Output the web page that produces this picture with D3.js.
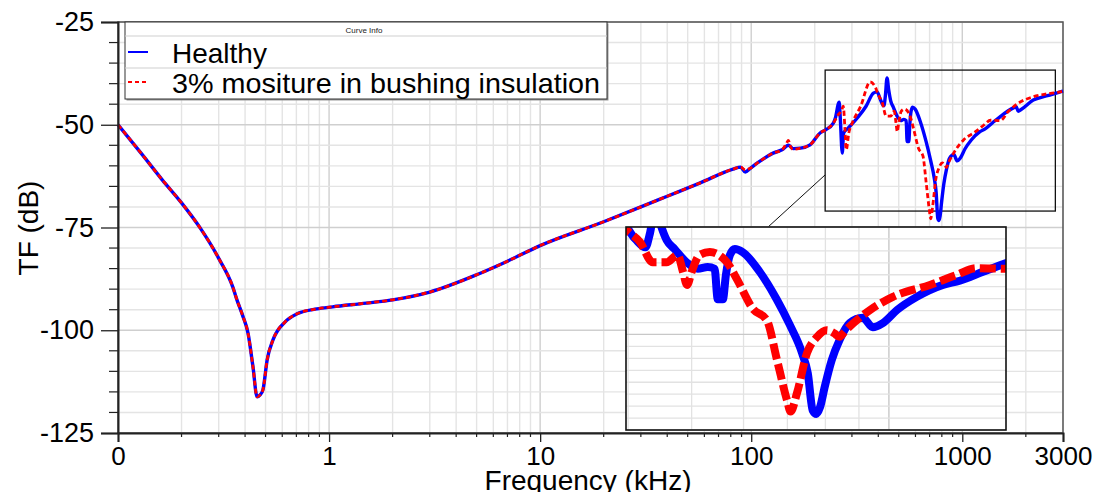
<!DOCTYPE html>
<html><head><meta charset="utf-8">
<script src="https://cdn.jsdelivr.net/npm/d3@7"></script>
<style>body{margin:0;background:#fff;} svg{display:block;font-family:"Liberation Sans",Arial,sans-serif;}</style>
</head><body><svg id="c" width="1094" height="492"></svg>
<script>
// ---------- data ----------
const xTickValues = [0.1, 1, 10, 100, 1000, 3000];
const xTickLabels = ["0", "1", "10", "100", "1000", "3000"];
const yTickValues = [-125, -100, -75, -50, -25];
const seriesNames = ["Healthy", "3% mositure in bushing insulation"];
const legendTitle = "Curve Info";
const xTitle = "Frequency (kHz)";
const yTitle = "TF (dB)";

const freqHealthy = [0.1,0.13,0.162,0.2,0.245,0.3,0.35,0.366,0.39,0.413,0.436,0.456,0.47,0.486,0.509,0.543,0.618,0.705,0.875,1.04,1.5,2,3,5,7,10,20,30,40,57,82,89,93.7,99,107,127,140,150,158,171,190,212,224,245,250,261,264,270,274,288,321,350,379,395,410,425,432,440,448,458,471,491,511,529,542,548,558,564,572,582,598,635,674,706,737,752,765,775,785,798,818,841,871,912,945,979,1029,1103,1209,1283,1392,1514,1745,1800,1841,1900,2168,2500,2911,3000];
const tfHealthy = [-50,-57.2,-63.4,-69,-75.1,-82.5,-89.5,-92.6,-96.5,-100.7,-108.9,-116.2,-115.8,-114.5,-107.2,-102.3,-98,-96,-94.8,-94.3,-93.4,-92.6,-90.7,-86.5,-83.2,-79.4,-73.6,-70,-67.4,-64.2,-60.8,-60.3,-61.5,-60.6,-59.3,-56.9,-56.1,-55,-55.8,-55.7,-54.9,-52,-51.3,-49.6,-48.5,-44.5,-48,-56.9,-52,-50.8,-48.1,-45.5,-42.3,-42,-44,-45.4,-43,-38.6,-41.5,-44.2,-45.7,-47.9,-49,-48.7,-49,-54.1,-54.1,-50,-46.7,-45.7,-46.2,-49.5,-54.1,-58.4,-63.1,-66.5,-72.7,-73.3,-72.2,-68.8,-64.3,-60.9,-58.1,-57.2,-58.8,-58.1,-55.9,-53.7,-51.7,-51,-49.5,-48,-45.9,-45.6,-46.7,-46.3,-44,-43,-42,-41.8];

const freqMoisture = [0.1,0.13,0.162,0.2,0.245,0.3,0.35,0.366,0.39,0.413,0.436,0.456,0.47,0.486,0.509,0.543,0.618,0.705,0.875,1.04,1.5,2,3,5,7,10,20,30,40,57,82,89,93.7,99,107,127,140,147,150,154,158,171,190,212,224,245,258,268,273,278,282,290,301,330,366,387,398,417,436,458,476,485,492,500,514,533,566,586,620,651,675,699,708,724,750,777,804,825,841,856,936,1014,1155,1270,1361,1514,1650,1824,2168,2500,2911,3000];
const tfMoisture = [-50,-57.2,-63.4,-69,-75.1,-82.5,-89.5,-92.6,-96.5,-100.7,-108.9,-116.2,-115.8,-114.5,-107.2,-102.3,-98,-96,-94.8,-94.3,-93.4,-92.6,-90.7,-86.5,-83.2,-79.4,-73.6,-70,-67.4,-64.2,-60.8,-60.3,-61,-60.6,-59.3,-56.9,-56.1,-54.5,-53.8,-55.5,-56,-55.7,-54.9,-52,-51.3,-49.6,-47.6,-46.5,-45.5,-51,-56.1,-52,-49.6,-45.5,-39.6,-40.8,-42.5,-44.5,-47.9,-47.9,-46.7,-49.5,-51.7,-49.5,-46.7,-46.2,-47.9,-50.7,-55.7,-57.6,-64.3,-71,-72.9,-69.8,-63.1,-60.4,-59.3,-59.8,-60.4,-59.5,-55.9,-53.7,-51.7,-50,-48.9,-49,-46.8,-44.9,-43.2,-42.5,-42,-41.8];

// highlighted box on main plot and the range shown by the magnified inset
const boxFreq = [224, 2760];
const boxTF = [-71, -36.7];
const zoomFreq = [397, 1509];
const zoomTF = [-76, -42];
const connectorFrom = [224, -62.2]; // on main axes
const connectorToFreq = 654;        // on inset top

// ---------- layout ----------
const svg = d3.select("#c");
const M = {l:118, r:1063, t:22, b:433};
const x = d3.scaleLog().domain([0.1, 3000]).range([M.l, M.r]);
const y = d3.scaleLinear().domain([-125, -25]).range([M.b, M.t]);

const I = {l:626, r:1006, t:227, b:430};
const xi = d3.scaleLog().domain(zoomFreq).range([I.l, I.r]);
const yi = d3.scaleLinear().domain(zoomTF).range([I.b, I.t]);

const healthy = freqHealthy.map((f,i)=>[f, tfHealthy[i]]);
const moisture = freqMoisture.map((f,i)=>[f, tfMoisture[i]]);

const xMinor = [];
for (let dec = 0.1; dec < 3000; dec *= 10) for (let k = 1; k < 10; k++) { const v = +(dec*k).toPrecision(3); if (v <= 3000) xMinor.push(v); }
const yMinor = d3.range(-125, -24, 5);

// grid
const g = svg.append("g");
g.selectAll(".xg").data(xMinor).join("line")
  .attr("x1", d=>x(d)).attr("x2", d=>x(d)).attr("y1", M.t).attr("y2", M.b)
  .attr("stroke", d=> [0.1,1,10,100,1000].includes(d) ? "#cfcfcf" : "#e4e4e4")
  .attr("stroke-width", 1.4);
g.selectAll(".yg").data(yMinor).join("line")
  .attr("x1", M.l).attr("x2", M.r).attr("y1", d=>y(d)).attr("y2", d=>y(d))
  .attr("stroke", d=> d % 25 === 0 ? "#cfcfcf" : "#e4e4e4")
  .attr("stroke-width", 1.4);

// frame
svg.append("rect").attr("x", M.l).attr("y", M.t).attr("width", M.r-M.l).attr("height", M.b-M.t)
  .attr("fill", "none").attr("stroke", "#555").attr("stroke-width", 1.5);

// highlight box
svg.append("rect").attr("x", x(boxFreq[0])).attr("y", y(boxTF[1]))
  .attr("width", x(boxFreq[1]) - x(boxFreq[0])).attr("height", y(boxTF[0]) - y(boxTF[1]))
  .attr("fill", "none").attr("stroke", "#111").attr("stroke-width", 1.3);

// main curves
const line = d3.line().x(d=>x(d[0])).y(d=>y(d[1])).curve(d3.curveMonotoneX);
svg.append("path").datum(healthy).attr("d", line).attr("fill","none").attr("stroke","#0000ff").attr("stroke-width",3.4).attr("stroke-linejoin","round");
svg.append("path").datum(moisture).attr("d", line).attr("fill","none").attr("stroke","#ff0000").attr("stroke-width",2.8).attr("stroke-dasharray","5,3");

// connector
svg.append("line").attr("x1", x(connectorFrom[0])).attr("y1", y(connectorFrom[1]))
  .attr("x2", xi(connectorToFreq)).attr("y2", I.t).attr("stroke","#111").attr("stroke-width",1);

// inset
const ig = svg.append("g");
ig.append("rect").attr("x", I.l).attr("y", I.t).attr("width", I.r-I.l).attr("height", I.b-I.t).attr("fill","#fff");
const xiGrid = [400,500,600,700,800,900,1000];
ig.selectAll(".ixg").data(xiGrid).join("line")
  .attr("x1", d=>xi(d)).attr("x2", d=>xi(d)).attr("y1", I.t).attr("y2", I.b)
  .attr("stroke", d=> d===1000 ? "#c4c4c4" : "#e2e2e2").attr("stroke-width", 1.3);
const yiGrid = d3.range(-76, -41, 2);
ig.selectAll(".iyg").data(yiGrid).join("line")
  .attr("x1", I.l).attr("x2", I.r).attr("y1", d=>yi(d)).attr("y2", d=>yi(d))
  .attr("stroke", d=> d===-60 ? "#c8c8c8" : "#e2e2e2").attr("stroke-width", 1.3);
svg.append("clipPath").attr("id","ic").append("rect").attr("x", I.l).attr("y", I.t).attr("width", I.r-I.l).attr("height", I.b-I.t);
const iline = d3.line().x(d=>xi(d[0])).y(d=>yi(d[1])).curve(d3.curveMonotoneX);
const ic = ig.append("g").attr("clip-path","url(#ic)");
ic.append("path").datum(healthy).attr("d", iline).attr("fill","none").attr("stroke","#0000ff").attr("stroke-width",8).attr("stroke-linejoin","round");
ic.append("path").datum(moisture).attr("d", iline).attr("fill","none").attr("stroke","#ff0000").attr("stroke-width",8).attr("stroke-dasharray","16,5");
ig.append("rect").attr("x", I.l).attr("y", I.t).attr("width", I.r-I.l).attr("height", I.b-I.t)
  .attr("fill","none").attr("stroke","#111").attr("stroke-width",1.6);

// axes
const xAxis = d3.axisBottom(x).tickValues(xTickValues).tickFormat((d,i)=>xTickLabels[i]).tickSize(9);
const xa = svg.append("g").attr("transform", `translate(0,${M.b})`).call(xAxis);
xa.select(".domain").attr("stroke","#222").attr("stroke-width",2);
xa.selectAll("text").attr("font-size", 26).attr("fill","#000").attr("y", 14).attr("dy","0.71em");
xa.selectAll(".tick line").attr("stroke","#222").attr("stroke-width",1.3);
svg.append("g").selectAll("line").data(xMinor.filter(v=>!xTickValues.includes(v))).join("line")
  .attr("x1", d=>x(d)).attr("x2", d=>x(d)).attr("y1", M.b).attr("y2", M.b+4).attr("stroke","#222").attr("stroke-width",1.2);

const yAxis = d3.axisLeft(y).tickValues(yTickValues).tickFormat(d=>d).tickSize(17);
const ya = svg.append("g").attr("transform", `translate(${M.l},0)`).call(yAxis);
ya.select(".domain").attr("stroke","#222").attr("stroke-width",2);
ya.selectAll("text").attr("font-size", 27).attr("fill","#000").attr("x", -24);
ya.selectAll(".tick line").attr("stroke","#222").attr("stroke-width",1.3);
svg.append("g").selectAll("line").data(yMinor.filter(v=>!yTickValues.includes(v))).join("line")
  .attr("x1", M.l-9).attr("x2", M.l).attr("y1", d=>y(d)).attr("y2", d=>y(d)).attr("stroke","#222").attr("stroke-width",1.2);
svg.selectAll(".tick text").attr("font-family", "'Liberation Sans', Arial, sans-serif");

svg.append("text").attr("x", 588).attr("y", 490).attr("text-anchor","middle").attr("font-size",28).text(xTitle);
svg.append("text").attr("transform","translate(38,228) rotate(-90)").attr("text-anchor","middle").attr("font-size",28).text(yTitle);

// legend
const L = {x:125, y:22, w:482, h:77};
const lg = svg.append("g");
lg.append("rect").attr("x", L.x+1.5).attr("y", L.y+1.5).attr("width", L.w).attr("height", L.h).attr("fill","#9a9a9a");
lg.append("rect").attr("x", L.x).attr("y", L.y).attr("width", L.w).attr("height", L.h).attr("fill","#fff").attr("stroke","#333").attr("stroke-width",1);
lg.append("line").attr("x1", L.x).attr("x2", L.x+L.w).attr("y1", 36).attr("y2", 36).attr("stroke","#cfcfcf").attr("stroke-width",1.2);
lg.append("line").attr("x1", L.x).attr("x2", L.x+L.w).attr("y1", 68).attr("y2", 68).attr("stroke","#cfcfcf").attr("stroke-width",1.2);
lg.append("text").attr("x", 364).attr("y", 33).attr("text-anchor","middle").attr("font-size",8).attr("fill","#222").text(legendTitle);
const rows = [{c:"#0000ff", dash:null, y:52, ty:63, w:null}, {c:"#ff0000", dash:"4,3", y:82, ty:93, w:428}];
rows.forEach((r,i)=>{
  lg.append("line").attr("x1",128).attr("x2",148).attr("y1",r.y).attr("y2",r.y).attr("stroke",r.c).attr("stroke-width",2).attr("stroke-dasharray",r.dash);
  const t = lg.append("text").attr("x",172).attr("y",r.ty).attr("font-size",28).attr("fill","#000").text(seriesNames[i]);
  if (r.w) t.attr("textLength", r.w).attr("lengthAdjust","spacingAndGlyphs");
});
</script></body></html>
